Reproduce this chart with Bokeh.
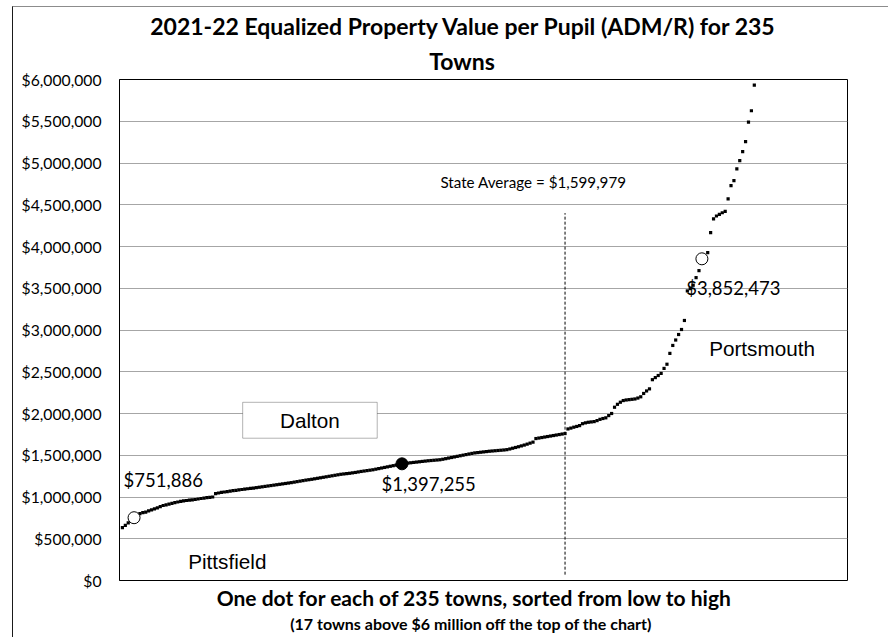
from bokeh.plotting import figure
from bokeh.models import Label, Range1d, NumeralTickFormatter, FixedTicker, BoxAnnotation, Title
from bokeh.embed import file_html
from bokeh.resources import INLINE

# ---- data (sorted low -> high; 218 of 235 towns shown) ----
values = [
    633000, 660000, 690000, 720000, 751886, 780000, 800000, 812000, 820000, 835000,
    845000, 858000, 870000, 885000, 898000, 906000, 915000, 924000, 932000, 940000,
    947000, 953000, 958000, 962000, 966000, 970000, 976000, 982000, 987000, 992000,
    996000, 1000000, 1040000, 1048000, 1055000, 1060000, 1065000, 1071000, 1076000, 1080000,
    1085000, 1090000, 1095000, 1099000, 1103000, 1107000, 1112000, 1117000, 1122000, 1127000,
    1132000, 1137000, 1142000, 1147000, 1152000, 1157000, 1162000, 1167000, 1172000, 1178000,
    1184000, 1190000, 1196000, 1202000, 1207000, 1212000, 1218000, 1224000, 1230000, 1236000,
    1242000, 1248000, 1254000, 1260000, 1266000, 1272000, 1276000, 1280000, 1284000, 1289000,
    1294000, 1300000, 1306000, 1311000, 1316000, 1321000, 1326000, 1333000, 1340000, 1347000,
    1354000, 1361000, 1368000, 1375000, 1382000, 1390000, 1397255, 1402000, 1406000, 1410000,
    1414000, 1418000, 1422000, 1426000, 1430000, 1434000, 1437000, 1440000, 1443000, 1446000,
    1452000, 1459000, 1466000, 1473000, 1480000, 1487000, 1494000, 1501000, 1508000, 1515000,
    1522000, 1528000, 1532000, 1536000, 1540000, 1544000, 1548000, 1551000, 1554000, 1557000,
    1560000, 1563000, 1567000, 1575000, 1584000, 1593000, 1602000, 1612000, 1622000, 1633000,
    1645000, 1657000, 1700000, 1706000, 1712000, 1718000, 1724000, 1730000, 1736000, 1742000,
    1748000, 1754000, 1760000, 1815000, 1825000, 1836000, 1845000, 1855000, 1878000, 1888000,
    1895000, 1899000, 1903000, 1915000, 1930000, 1940000, 1948000, 1975000, 2000000, 2075000,
    2110000, 2135000, 2155000, 2162000, 2166000, 2170000, 2174000, 2185000, 2200000, 2240000,
    2270000, 2295000, 2405000, 2430000, 2455000, 2480000, 2540000, 2590000, 2720000, 2815000,
    2880000, 2946000, 3006000, 3114000, 3468000, 3495000, 3536000, 3627000, 3711000, 3852473,
    3880000, 3926000, 4165000, 4332000, 4365000, 4385000, 4404000, 4420000, 4571000, 4730000,
    4790000, 4930000, 5029000, 5136000, 5256000, 5490000, 5626000, 5933000,
]
ranks = list(range(1, len(values) + 1))

highlight_towns = ["Pittsfield", "Dalton", "Portsmouth"]
highlight_ranks = [5, 97, 200]
highlight_values = [751886, 1397255, 3852473]
highlight_filled = [False, True, False]

state_average = 1599979
state_average_rank = 153

y_ticks = [0, 500000, 1000000, 1500000, 2000000, 2500000, 3000000,
           3500000, 4000000, 4500000, 5000000, 5500000, 6000000]

title_lines = ["2021-22 Equalized Property Value per Pupil (ADM/R) for 235", "Towns"]
x_label_lines = ["One dot for each of 235 towns, sorted from low to high",
                 "(17 towns above $6 million off the top of the chart)"]

W, H = 876, 631
p = figure(width=W, height=H, output_backend="svg", toolbar_location=None,
           x_range=Range1d(0, 250), y_range=Range1d(0, 6000000),
           min_border_left=106, min_border_right=42, min_border_top=72, min_border_bottom=58,
           background_fill_color="white", border_fill_color="white")
p.styles = {"margin-left": "12px", "margin-top": "6px",
            "border-left": "1px solid #1a1a1a", "border-top": "1px solid #8c8c8c"}

p.outline_line_color = "black"
p.outline_line_width = 1
p.xaxis.visible = False
p.xgrid.visible = False
p.ygrid.ticker = FixedTicker(ticks=y_ticks)
p.ygrid.grid_line_color = "#a6a6a6"
p.ygrid.grid_line_width = 1

ya = p.yaxis[0]
ya.ticker = FixedTicker(ticks=y_ticks)
ya.formatter = NumeralTickFormatter(format="$0,0")
ya.major_tick_line_color = None
ya.minor_tick_line_color = None
ya.major_tick_out = 0
ya.major_tick_in = 0
ya.axis_line_color = "black"
ya.major_label_standoff = 18
ya.major_label_text_font = "Lato"
ya.major_label_text_font_size = "15.7px"
ya.major_label_text_color = "black"

# titles: "above" stacks outward, "below" stacks downward
p.add_layout(Title(text=title_lines[1], align="left", offset=309.7, standoff=10,
                   text_font="Lato", text_font_size="23px", text_font_style="bold",
                   text_color="black"), "above")
p.add_layout(Title(text=title_lines[0], align="left", offset=30.7, standoff=0,
                   text_font="Lato", text_font_size="23px", text_font_style="bold",
                   text_line_height=0.75, text_color="black"), "above")
p.add_layout(Title(text=x_label_lines[0], align="left", offset=97.2, standoff=4,
                   text_font="Lato", text_font_size="21px", text_font_style="bold",
                   text_color="black"), "below")
p.add_layout(Title(text=x_label_lines[1], align="left", offset=170.7, standoff=0,
                   text_font="Lato", text_font_size="16px", text_font_style="bold",
                   text_color="black"), "below")

# state average dashed line
p.segment(x0=[state_average_rank], y0=[70000], x1=[state_average_rank], y1=[4400000],
          line_color="black", line_width=1, line_dash="3 2")

# the dots
p.scatter(ranks, values, marker="square", size=3.2, fill_color="black", line_color=None)

# highlighted towns
for r, v, f in zip(highlight_ranks, highlight_values, highlight_filled):
    p.scatter([r], [v], marker="circle", size=12, line_color="black", line_width=1,
              fill_color="black" if f else "white")

# Dalton box
p.add_layout(BoxAnnotation(left=42.3, right=88.5, bottom=1704000, top=2134000,
                           fill_color="white", fill_alpha=1, line_color="black", line_width=1))

def lab(x, y, text, font="Lato", size="18.5px", align="left", bg=None):
    kw = {}
    if bg:
        kw = dict(background_fill_color=bg, background_fill_alpha=1)
    p.add_layout(Label(x=x, y=y, text=text, text_font=font,
                       text_font_size=size, text_align=align, text_baseline="middle",
                       text_color="black", **kw))

lab(1.4, 1206000, "${:,}".format(highlight_values[0]))
lab(90.0, 1159000, "${:,}".format(highlight_values[1]), bg="white")
lab(194.6, 3506000, "${:,}".format(highlight_values[2]))
lab(110.2, 4769000, "State Average = ${:,}".format(state_average), size="15.2px")

lab(23.6, 227000, highlight_towns[0], font="Liberation Sans", size="20.7px")
lab(65.4, 1917000, highlight_towns[1], font="Liberation Sans", size="20.7px", align="center")
lab(202.5, 2777000, highlight_towns[2], font="Liberation Sans", size="20.7px")

open("out.html", "w").write(file_html(p, INLINE))
